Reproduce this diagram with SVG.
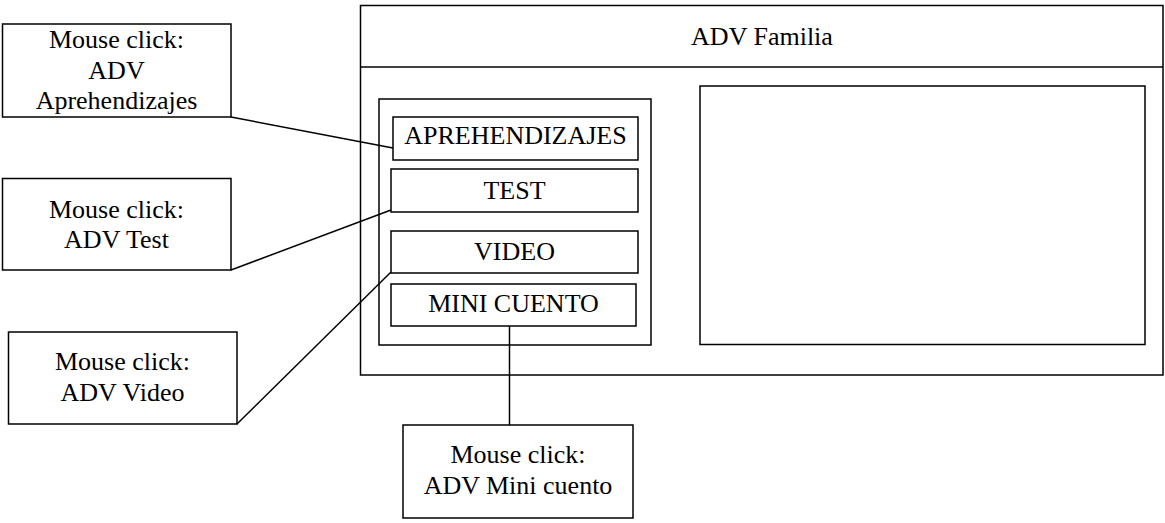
<svg xmlns="http://www.w3.org/2000/svg" width="1165" height="523" viewBox="0 0 1165 523">
<style>
rect{fill:#fff;stroke:#000;stroke-width:1.5}
line{stroke:#000;stroke-width:1.5}
text{font-family:"Liberation Serif","Times New Roman",serif;font-size:26px;fill:#000;text-anchor:middle}
</style>
<g id="window">
<rect x="360.5" y="5.5" width="802.5" height="369.5"/>
<line x1="360.5" y1="67" x2="1163" y2="67"/>
<text x="762" y="45">ADV Familia</text>
</g>
<g id="content">
<rect x="700" y="86" width="445" height="258.5"/>
</g>
<g id="menu">
<rect x="379" y="99" width="272" height="246"/>
</g>
<g id="btn-aprehendizajes">
<rect x="393" y="117" width="245" height="43"/>
<text x="515.5" y="144">APREHENDIZAJES</text>
</g>
<g id="btn-test">
<rect x="391" y="169" width="247" height="43"/>
<text x="514.5" y="199">TEST</text>
</g>
<g id="btn-video">
<rect x="391" y="231" width="247" height="42"/>
<text x="514.5" y="260">VIDEO</text>
</g>
<g id="btn-minicuento">
<rect x="391" y="284" width="245" height="42"/>
<text x="513.5" y="312">MINI CUENTO</text>
</g>
<g id="note-aprehendizajes">
<rect x="2.5" y="24" width="228.5" height="93"/>
<text x="116.5" y="48">Mouse click:</text>
<text x="116.5" y="79">ADV</text>
<text x="116.5" y="109">Aprehendizajes</text>
</g>
<g id="note-test">
<rect x="2.5" y="178.5" width="228.5" height="91.5"/>
<text x="116.5" y="218">Mouse click:</text>
<text x="116.5" y="248">ADV Test</text>
</g>
<g id="note-video">
<rect x="8.5" y="332" width="228.5" height="92"/>
<text x="122.5" y="370">Mouse click:</text>
<text x="122.5" y="401">ADV Video</text>
</g>
<g id="note-minicuento">
<rect x="403" y="425" width="230" height="93"/>
<text x="518" y="463">Mouse click:</text>
<text x="518" y="494">ADV Mini cuento</text>
</g>
<g id="connectors">
<line x1="231" y1="117" x2="393" y2="148"/>
<line x1="231" y1="270" x2="391" y2="210"/>
<line x1="237" y1="424" x2="391" y2="272"/>
<line x1="509.5" y1="326" x2="509.5" y2="425"/>
</g>
</svg>
